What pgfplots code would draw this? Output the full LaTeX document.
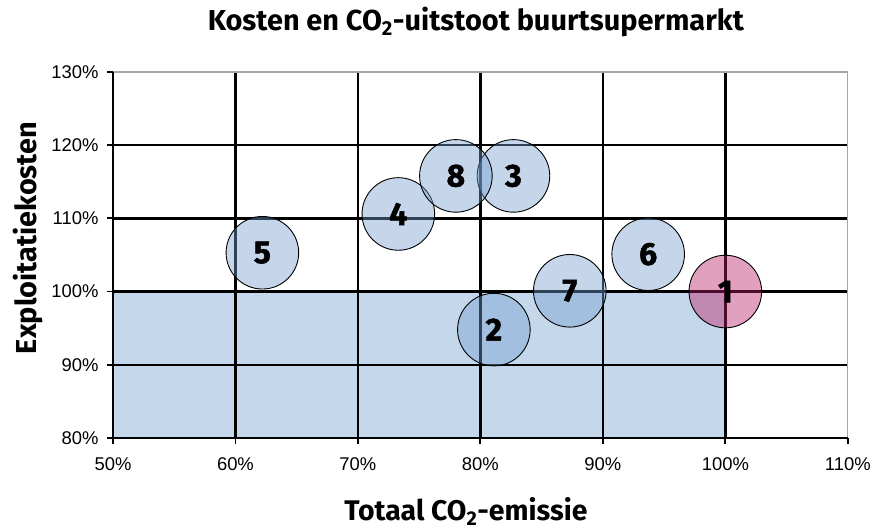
\documentclass[border=0pt]{standalone}
\usepackage{pgfplots}
\pgfplotsset{compat=1.18}
\usepackage{fontspec}
\setmainfont{Liberation Sans}
\newfontfamily\titlefont{Fira Sans}
\newfontfamily\numfont[BoldFeatures={FakeBold=1.6}]{Fira Sans}
\definecolor{rectblue}{RGB}{197,215,235}
\definecolor{bubblue}{RGB}{116,158,207}
\definecolor{bubpink}{RGB}{187,28,103}
\begin{document}
\begin{tikzpicture}
\begin{axis}[
  at={(0,0)}, anchor=south west,
  scale only axis, width=735bp, height=366bp,
  xmin=50, xmax=110, ymin=80, ymax=130,
  set layers=standard,
  clip=false,
  xtick={50,60,...,100}, extra x ticks={110}, extra x tick style={major grid style={gray!70, line width=1.2bp}},
  ytick={80,90,...,120}, extra y ticks={130}, extra y tick style={major grid style={gray!70, line width=1.2bp}},
  grid=major, major grid style={black, line width=2.4bp},
  axis x line*=bottom, axis y line*=left,
  axis line style={black, line width=2.4bp, -},
  tick align=outside, major tick length=6bp, tick style={black, line width=1.8bp},
  xticklabel={\pgfmathprintnumber[assume math mode=true]{\tick}\%},
  yticklabel={\pgfmathprintnumber[assume math mode=true]{\tick}\%},
  ticklabel style={font=\fontsize{18.5}{18.5}\selectfont},
  xticklabel style={yshift=-10bp},
  yticklabel style={xshift=-5bp},
]
\addplot[draw=none, fill=rectblue, on layer=axis background] coordinates {(50,80) (100,80) (100,100) (50,100)} -- cycle;
\addplot[only marks, mark=*, mark size=36.3bp,
  mark options={fill=bubblue, fill opacity=0.42, draw=black, draw opacity=1, line width=0.9bp},
  nodes near coords, point meta=explicit symbolic, nodes near coords align={center},
  every node near coord/.append style={font=\numfont\bfseries\fontsize{32}{32}\selectfont, anchor=center, text=black, text opacity=1, fill opacity=1}]
table[meta=label] {
x y label
81.1 94.8 2
82.7 115.8 3
73.3 110.6 4
62.2 105.3 5
93.7 105.1 6
87.3 100.1 7
78.0 115.8 8
};
\addplot[only marks, mark=*, mark size=36.3bp,
  mark options={fill=bubpink, fill opacity=0.42, draw=black, draw opacity=1, line width=0.9bp},
  nodes near coords, point meta=explicit symbolic, nodes near coords align={center},
  every node near coord/.append style={font=\numfont\bfseries\fontsize{32}{32}\selectfont, anchor=center, text=black, text opacity=1, fill opacity=1}]
table[meta=label] {
x y label
100.0 100.0 1
};
\end{axis}
\node[font=\titlefont\bfseries\fontsize{29}{29}\selectfont] at (363bp,416bp) {Kosten en CO\textsubscript{2}-uitstoot buurtsupermarkt};
\node[font=\titlefont\bfseries\fontsize{28.5}{28.5}\selectfont] at (353bp,-74bp) {Totaal CO\textsubscript{2}-emissie};
\node[font=\titlefont\bfseries\fontsize{29}{29}\selectfont, rotate=90] at (-85bp,200bp) {Exploitatiekosten};
\path (-113bp,-92bp) rectangle (761bp,438bp);
\end{tikzpicture}
\end{document}
